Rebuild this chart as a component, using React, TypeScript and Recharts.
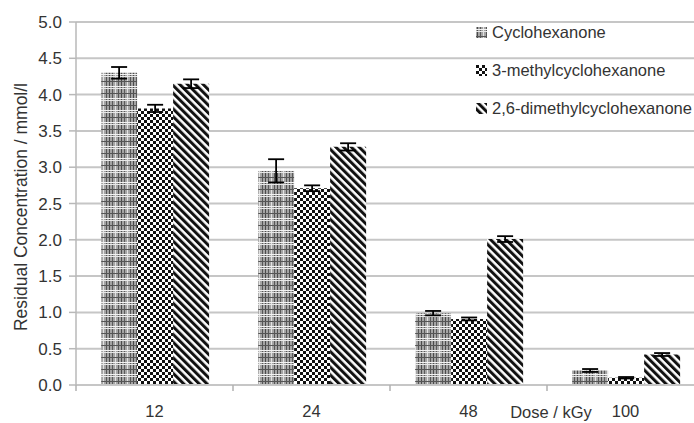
import React from 'react';
import { BarChart, Bar, XAxis, YAxis, CartesianGrid, ErrorBar } from 'recharts';

const categories = ['12', '24', '48', '100'];
const cyclohexanone = [4.3, 2.95, 0.99, 0.2];
const cyclohexanoneErr = [0.08, 0.16, 0.03, 0.02];
const methyl = [3.81, 2.71, 0.91, 0.1];
const methylErr = [0.05, 0.04, 0.02, 0.01];
const dimethyl = [4.15, 3.28, 2.01, 0.42];
const dimethylErr = [0.06, 0.05, 0.04, 0.02];
const yTicks = [0, 0.5, 1, 1.5, 2, 2.5, 3, 3.5, 4, 4.5, 5];
const seriesNames = ['Cyclohexanone', '3-methylcyclohexanone', '2,6-dimethylcyclohexanone'];

const data = categories.map((c, i) => ({
  dose: c,
  a: cyclohexanone[i],
  aErr: cyclohexanoneErr[i],
  b: methyl[i],
  bErr: methylErr[i],
  c: dimethyl[i],
  cErr: dimethylErr[i],
}));

const W = 704;
const H = 423;
const PLOT_LEFT = 76;
const PLOT_TOP = 22;
const PLOT_BOTTOM = 385;
const BAND = (W - PLOT_LEFT) / categories.length;
const FONT = '"Liberation Sans", Arial, sans-serif';
const TEXT = '#333';
const GRID = '#c6c6c6';

const Patterns = ({ p }: { p: string }) => (
  <defs>
    <pattern id={`${p}-a`} patternUnits="userSpaceOnUse" width="12" height="12">
      <rect width="12" height="12" fill="#a4a4a4" />
      <line x1="1.5" y1="0" x2="1.5" y2="12" stroke="#4a4a4a" strokeWidth="1" />
      <line x1="4.5" y1="0" x2="4.5" y2="12" stroke="#5a5a5a" strokeWidth="1" />
      <line x1="7.5" y1="0" x2="7.5" y2="12" stroke="#e2e2e2" strokeWidth="1" />
      <line x1="10.5" y1="0" x2="10.5" y2="12" stroke="#555" strokeWidth="1" />
      <line x1="0" y1="2.5" x2="12" y2="2.5" stroke="#f2f2f2" strokeWidth="1" />
      <line x1="0" y1="4.5" x2="12" y2="4.5" stroke="#e8e8e8" strokeWidth="1" />
      <line x1="0" y1="9.5" x2="12" y2="9.5" stroke="#555" strokeWidth="1" />
    </pattern>
    <pattern id={`${p}-b`} patternUnits="userSpaceOnUse" width="6" height="6">
      <rect width="6" height="6" fill="#fff" />
      <rect x="0" y="0" width="3" height="3" fill="#111" />
      <rect x="3" y="3" width="3" height="3" fill="#111" />
    </pattern>
    <pattern id={`${p}-c`} patternUnits="userSpaceOnUse" width="5.5" height="5.5" patternTransform="rotate(-45)">
      <rect width="5.5" height="5.5" fill="#fff" />
      <rect x="0" y="0" width="3" height="5.5" fill="#111" />
    </pattern>
  </defs>
);

const XTick = (props: any) => {
  const { x, payload } = props;
  const bx = x - BAND / 2;
  return (
    <g>
      <line x1={bx} x2={bx} y1={PLOT_BOTTOM} y2={PLOT_BOTTOM + 6} stroke="#b0b0b0" strokeWidth={1.5} />
      <text x={x} y={417} textAnchor="middle" fontFamily={FONT} fontSize={16.5} fill={TEXT}>
        {payload.value}
      </text>
    </g>
  );
};

const keys = ['a', 'b', 'c'];

export default function App() {
  return (
    <div style={{ position: 'absolute', left: 0, top: 0, width: 694, height: 423, overflow: 'hidden', background: '#fff' }}>
      <BarChart
        width={W}
        height={H}
        data={data}
        margin={{ top: PLOT_TOP, right: 0, bottom: 0, left: 0 }}
        barCategoryGap="16%"
        barGap={0}
      >
        <Patterns p="chart" />
        <CartesianGrid vertical={false} stroke={GRID} strokeWidth={2} />
        <XAxis
          dataKey="dose"
          height={H - PLOT_BOTTOM}
          axisLine={{ stroke: GRID, strokeWidth: 2 }}
          tickLine={false}
          tick={<XTick />}
          interval={0}
          label={{
            content: () => (
              <text x={551} y={418} textAnchor="middle" fontFamily={FONT} fontSize={16.5} fill={TEXT}>
                Dose / kGy
              </text>
            ),
          }}
        />
        <YAxis
          width={PLOT_LEFT}
          domain={[0, 5]}
          ticks={yTicks}
          interval={0}
          tickFormatter={(v: number) => v.toFixed(1)}
          axisLine={{ stroke: '#b8b8b8', strokeWidth: 1.5 }}
          tickLine={{ stroke: '#b8b8b8', strokeWidth: 1.5 }}
          tickSize={7}
          tickMargin={7}
          tick={{ fontFamily: FONT, fontSize: 17, fill: TEXT }}
          label={{
            content: () => (
              <text
                x={21}
                y={207}
                transform="rotate(-90 21 207)"
                textAnchor="middle"
                dominantBaseline="central"
                fontFamily={FONT}
                fontSize={17.5}
                fill={TEXT}
              >
                Residual Concentration / mmol/l
              </text>
            ),
          }}
        />
        {keys.map((k) => (
          <Bar key={k} dataKey={k} fill={`url(#chart-${k})`} isAnimationActive={false}>
            <ErrorBar dataKey={`${k}Err`} width={8} strokeWidth={1.8} stroke="#000" direction="y" />
          </Bar>
        ))}
      </BarChart>
      {seriesNames.map((name, i) => (
        <div
          key={name}
          style={{
            position: 'absolute',
            left: 476,
            top: 32 + i * 38 - 11,
            height: 22,
            display: 'flex',
            alignItems: 'center',
            fontFamily: FONT,
            fontSize: 16.5,
            color: TEXT,
            whiteSpace: 'nowrap',
          }}
        >
          <svg width={11} height={11} style={{ marginRight: 5 }}>
            <Patterns p={`leg${i}`} />
            <rect width={11} height={11} fill={`url(#leg${i}-${keys[i]})`} />
          </svg>
          {name}
        </div>
      ))}
    </div>
  );
}
